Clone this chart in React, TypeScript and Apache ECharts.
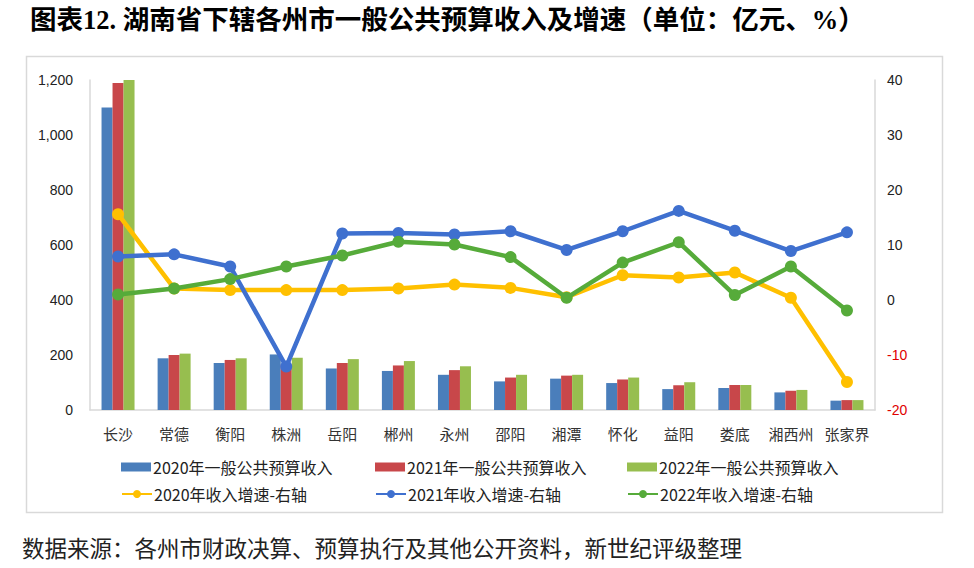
import React, { useEffect, useRef } from "react";
import * as echarts from "echarts";

const categories = ["长沙", "常德", "衡阳", "株洲", "岳阳", "郴州", "永州", "邵阳", "湘潭", "怀化", "益阳", "娄底", "湘西州", "张家界"];
const rev2020 = [1100, 188, 171, 202, 151, 142, 128, 104, 114, 98, 76, 80, 64, 34];
const rev2021 = [1189, 200, 182, 165, 171, 162, 145, 118, 125, 111, 90, 91, 70, 36];
const rev2022 = [1200, 205, 188, 190, 185, 178, 159, 128, 128, 118, 101, 91, 73, 36];
const growth2020 = [15.6, 2.1, 1.8, 1.8, 1.8, 2.1, 2.8, 2.2, 0.5, 4.5, 4.1, 5.0, 0.4, -14.9];
const growth2021 = [7.9, 8.3, 6.1, -12.1, 12.1, 12.2, 11.9, 12.5, 9.1, 12.5, 16.2, 12.6, 8.9, 12.3];
const growth2022 = [1.0, 2.1, 3.8, 6.1, 8.1, 10.6, 10.1, 7.8, 0.4, 6.8, 10.5, 0.9, 6.1, -1.9];

const barNames = ["2020年一般公共预算收入", "2021年一般公共预算收入", "2022年一般公共预算收入"];
const lineNames = ["2020年收入增速-右轴", "2021年收入增速-右轴", "2022年收入增速-右轴"];
const titleText = "图表12. 湖南省下辖各州市一般公共预算收入及增速（单位：亿元、%）";
const sourceText = "数据来源：各州市财政决算、预算执行及其他公开资料，新世纪评级整理";

const barColors = ["#4a7ebb", "#c8474a", "#97be4f"];
const lineColors = ["#ffc000", "#3f70cf", "#56ab3a"];

const App: React.FC = () => {
  const ref = useRef<HTMLDivElement>(null);
  useEffect(() => {
    if (!ref.current) return;
    const chart = echarts.init(ref.current, undefined, { renderer: "svg" });
    const cjk = "'Noto Sans CJK SC', 'Noto Sans', sans-serif";
    const lefts = [116, 370, 622];
    const legends: any[] = [];
    barNames.forEach((n, i) => {
      legends.push({
        data: [n],
        left: lefts[i],
        top: 454,
        itemWidth: 30,
        itemHeight: 9,
        icon: "rect",
        textStyle: { fontFamily: cjk, fontSize: 16, color: "#222", padding: [0, 0, 0, -3] },
      });
    });
    lineNames.forEach((n, i) => {
      legends.push({
        data: [n],
        left: lefts[i],
        top: 481,
        itemWidth: 30,
        itemHeight: 10,
        textStyle: { fontFamily: cjk, fontSize: 16, color: "#222", padding: [0, 0, 0, -3] },
      });
    });
    const option: any = {
      animation: false,
      backgroundColor: "#ffffff",
      legend: legends,
      grid: { left: 90, right: 99, top: 80, bottom: 158, containLabel: false },
      xAxis: {
        type: "category",
        data: categories,
        axisLine: { lineStyle: { color: "#d9d9d9", width: 1.5 } },
        axisTick: { show: false },
        axisLabel: { fontFamily: cjk, fontSize: 15, color: "#333", margin: 16, interval: 0 },
      },
      yAxis: [
        {
          type: "value",
          min: 0,
          max: 1200,
          interval: 200,
          splitLine: { show: false },
          axisLine: { show: true, lineStyle: { color: "#d9d9d9", width: 1.5 } },
          axisTick: { show: false },
          axisLabel: {
            fontFamily: "'Liberation Sans', 'Noto Sans', sans-serif",
            fontSize: 14,
            color: "#222",
            margin: 17,
            formatter: (v: number) => v.toLocaleString("en-US"),
          },
        },
        {
          type: "value",
          min: -20,
          max: 40,
          interval: 10,
          position: "right",
          splitLine: { show: false },
          axisLine: { show: true, lineStyle: { color: "#d9d9d9", width: 1.5 } },
          axisTick: { show: false },
          axisLabel: {
            fontFamily: "'Liberation Sans', 'Noto Sans', sans-serif",
            fontSize: 14,
            margin: 12,
            color: (v: any) => (Number(v) < 0 ? "#e00000" : "#222"),
          },
        },
      ],
      series: [
        ...[rev2020, rev2021, rev2022].map((d, i) => ({
          name: barNames[i],
          type: "bar",
          data: d,
          yAxisIndex: 0,
          barWidth: 11,
          barGap: "0%",
          itemStyle: { color: barColors[i] },
          z: 2,
        })),
        ...[growth2020, growth2021, growth2022].map((d, i) => ({
          name: lineNames[i],
          type: "line",
          data: d,
          yAxisIndex: 1,
          symbol: "circle",
          symbolSize: 12,
          lineStyle: { color: lineColors[i], width: 4.5 },
          itemStyle: { color: lineColors[i] },
          z: 3 + i,
        })),
      ],
      graphic: [
        {
          type: "rect",
          shape: { x: 26.5, y: 56.5, width: 916, height: 456 },
          style: { fill: "none", stroke: "#d9d9d9", lineWidth: 1.5 },
          silent: true,
        },
        {
          type: "text",
          left: 30,
          top: 7,
          style: {
            text: titleText,
            fontFamily: "'Liberation Serif', 'Noto Sans CJK SC', serif",
            fontWeight: "bold",
            fontSize: 26.5,
            fill: "#000",
          },
        },
        {
          type: "text",
          left: 22,
          top: 538,
          style: {
            text: sourceText,
            fontFamily: "'Liberation Serif', 'Noto Sans CJK SC', serif",
            fontSize: 22.5,
            fill: "#222",
          },
        },
      ],
    };
    chart.setOption(option);
    return () => chart.dispose();
  }, []);
  return <div ref={ref} style={{ position: "fixed", left: 0, top: 0, width: 974, height: 568 }} />;
};

export default App;
